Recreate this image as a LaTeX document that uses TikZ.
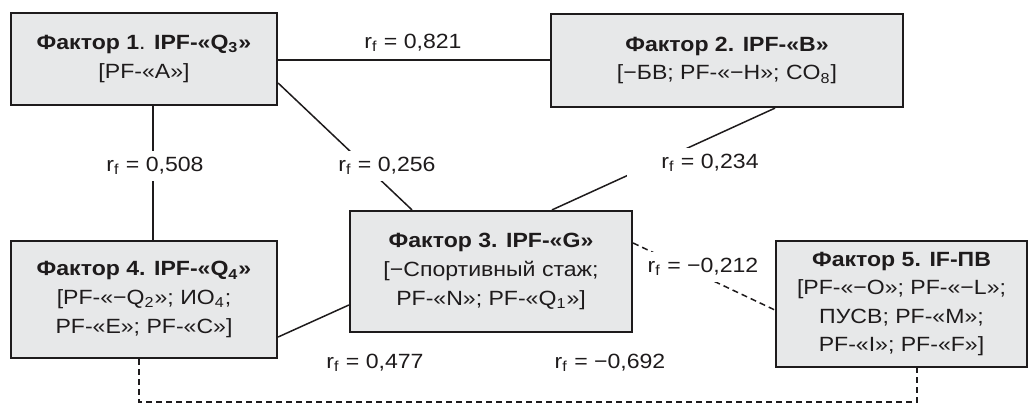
\documentclass[tikz,border=0pt]{standalone}
\usepackage{fontspec}
\setmainfont{Liberation Sans}[FakeStretch=1.12]
\definecolor{boxfill}{RGB}{231,232,233}
\definecolor{ink}{RGB}{30,27,28}
\tikzset{
  factor/.style={draw=ink, line width=1.1pt, fill=boxfill, align=center,
    inner sep=0pt, text=ink, font=\fontsize{10.3}{14.3}\selectfont},
  link/.style={draw=ink, line width=0.75pt},
  dlink/.style={link, dash pattern=on 3pt off 2pt},
  corr/.style={fill=white, inner sep=3pt, text=ink, font=\fontsize{10.3}{12}\selectfont},
}
\newcommand{\rfval}[1]{r\textsubscript{f} = #1}
\begin{document}
\begin{tikzpicture}[x=0.5pt, y=-0.5pt]
\useasboundingbox (0,0) rectangle (1028,404);

% factor boxes
\node[factor, minimum width=133pt, minimum height=46pt] (b1) at (144,59)
  {{\bfseries Фактор 1}. {\bfseries IPF-«Q\textsubscript{3}»}\\{[}PF-«A»]};
\node[factor, minimum width=176pt, minimum height=46.5pt] (b2) at (727,60.5)
  {{\bfseries Фактор 2. IPF-«B»}\\{[}−БВ; PF-«−H»; CO\textsubscript{8}]};
\node[factor, minimum width=141pt, minimum height=60.5pt] (b3) at (491,271.5)
  {{\bfseries Фактор 3. IPF-«G»}\\{[}−Спортивный стаж;\\PF-«N»; PF-«Q\textsubscript{1}»]};
\node[factor, minimum width=133pt, minimum height=58.5pt] (b4) at (144,299.5)
  {{\bfseries Фактор 4. IPF-«Q\textsubscript{4}»}\\{[}PF-«−Q\textsubscript{2}»; ИО\textsubscript{4};\\PF-«E»; PF-«C»]};
\node[factor, minimum width=125.5pt, minimum height=63pt] (b5) at (901.5,304)
  {{\bfseries Фактор 5. IF-ПВ}\\{[}PF-«−O»; PF-«−L»;\\ПУСВ; PF-«M»;\\PF-«I»; PF-«F»]};

% correlations
\draw[link] (b1.east |- 0,60) -- (b2.west |- 0,60);
\draw[link] (b1.east |- 0,83) -- (412,0 |- b3.north);
\draw[link] (153,0 |- b1.south) -- (153,0 |- b4.north);
\draw[link] (775,0 |- b2.south) -- (552,0 |- b3.north);
\draw[link] (b4.east |- 0,337) -- (b3.west |- 0,305);
\draw[dlink] (b3.east |- 0,243) -- (b5.west |- 0,310);
\draw[dlink] (139,0 |- b4.south) -- (139,402) -- (917,402) -- (917,0 |- b5.south);

% coefficient labels
\node[corr] (l12) at (413,43) {\rfval{0,821}};
\node[corr] (l13) at (387,166) {\rfval{0,256}};
\node[corr] (l14) at (155,166) {\rfval{0,508}};
\node[corr, anchor=east] (l23) at (765,163) {\hspace*{14pt}\rfval{0,234}};
\node[corr] (l35) at (703,267) {\rfval{−0,212}};
\node[corr] (l34) at (375,363) {\rfval{0,477}};
\node[corr] (l45) at (610,363) {\rfval{−0,692}};
\end{tikzpicture}
\end{document}
